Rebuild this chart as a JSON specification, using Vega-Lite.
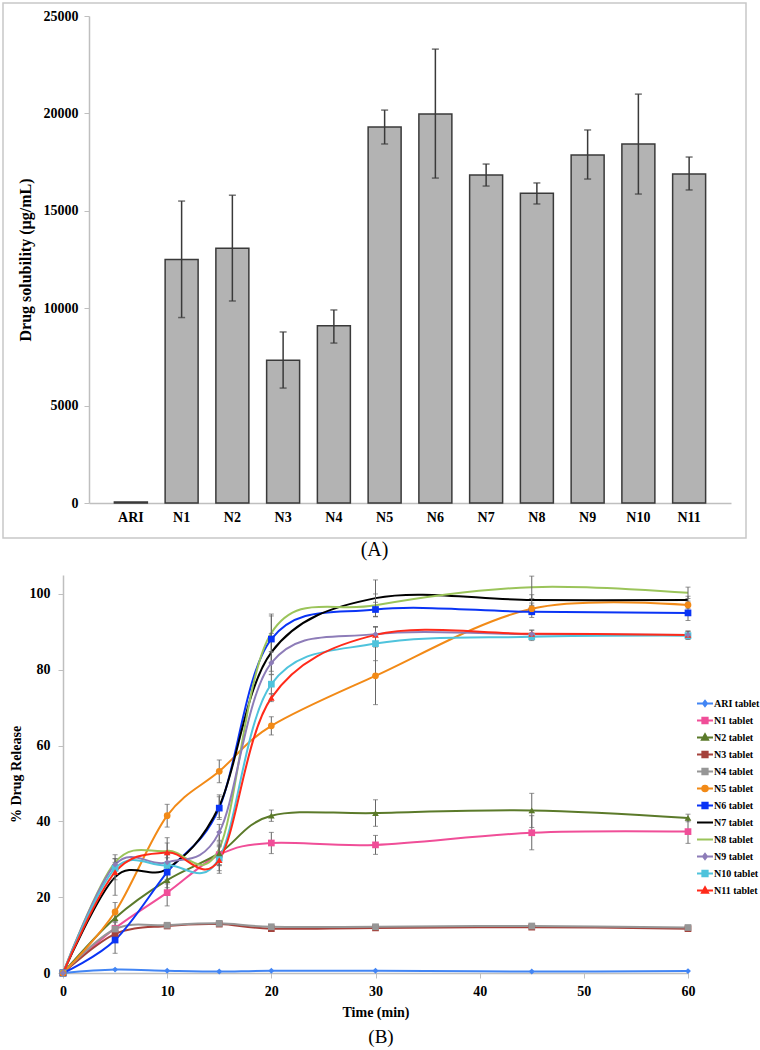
{
  "$schema": "https://vega.github.io/schema/vega-lite/v6.json",
  "padding": {"left": 2, "top": 2, "right": 0, "bottom": 0},
  "background": "white",
  "spacing": 14,
  "config": {
    "font": "Liberation Serif",
    "axis": {"labelFont": "Liberation Serif", "titleFont": "Liberation Serif", "labelColor": "#000", "titleColor": "#000", "grid": false}
  },
  "vconcat": [
    {
      "width": 743,
      "height": 535,
      "view": {"stroke": "#c8c8c8", "strokeWidth": 1.5},
      "title": {"text": "(A)", "orient": "bottom", "font": "Liberation Serif", "fontSize": 20, "fontWeight": "normal", "color": "#000", "offset": 2},
      "data": {"values": [
        {"f": "ARI", "v": 50, "lo": null, "hi": null},
        {"f": "N1", "v": 12500, "lo": 9520, "hi": 15500},
        {"f": "N2", "v": 13080, "lo": 10370, "hi": 15800},
        {"f": "N3", "v": 7330, "lo": 5900, "hi": 8780},
        {"f": "N4", "v": 9100, "lo": 8210, "hi": 9910},
        {"f": "N5", "v": 19300, "lo": 18430, "hi": 20170},
        {"f": "N6", "v": 19970, "lo": 16680, "hi": 23300},
        {"f": "N7", "v": 16840, "lo": 16270, "hi": 17400},
        {"f": "N8", "v": 15900, "lo": 15350, "hi": 16430},
        {"f": "N9", "v": 17860, "lo": 16630, "hi": 19150},
        {"f": "N10", "v": 18430, "lo": 15860, "hi": 20990},
        {"f": "N11", "v": 16890, "lo": 16070, "hi": 17760}
      ]},
      "encoding": {
        "x": {
          "field": "f", "type": "nominal", "sort": null,
          "scale": {"range": [86, 728], "paddingInner": 0.35, "paddingOuter": 0.5},
          "axis": {"title": null, "labelAngle": 0, "labelFontSize": 14, "labelFontWeight": "bold", "domainColor": "#bfbfbf", "domainWidth": 1.5, "ticks": false, "labelPadding": 7, "offset": -35}
        }
      },
      "layer": [
        {
          "mark": {"type": "bar", "fill": "#b3b3b3", "stroke": "#3a3a3a", "strokeWidth": 1.5},
          "encoding": {
            "y": {
              "field": "v", "type": "quantitative",
              "scale": {"domain": [0, 25000], "range": [500, 13], "nice": false},
              "axis": {"title": "Drug solubility (µg/mL)", "titleFontSize": 16, "titleFontWeight": "bold", "titlePadding": 10, "values": [0, 5000, 10000, 15000, 20000, 25000], "format": "d", "labelFontSize": 14, "labelFontWeight": "bold", "domainColor": "#bfbfbf", "domainWidth": 1.5, "tickColor": "#bfbfbf", "tickSize": 5, "labelPadding": 6, "offset": -86}
            }
          }
        },
        {
          "transform": [{"filter": "datum.lo != null"}],
          "mark": {"type": "rule", "color": "#3a3a3a", "strokeWidth": 1.5},
          "encoding": {"y": {"field": "lo", "type": "quantitative"}, "y2": {"field": "hi"}}
        },
        {
          "transform": [{"filter": "datum.lo != null"}],
          "mark": {"type": "tick", "orient": "horizontal", "color": "#3a3a3a", "size": 7, "thickness": 1.5},
          "encoding": {"y": {"field": "lo", "type": "quantitative"}}
        },
        {
          "transform": [{"filter": "datum.lo != null"}],
          "mark": {"type": "tick", "orient": "horizontal", "color": "#3a3a3a", "size": 7, "thickness": 1.5},
          "encoding": {"y": {"field": "hi", "type": "quantitative"}}
        }
      ]
    },
    {
      "width": 756,
      "height": 398,
      "view": {"stroke": null},
      "title": {"text": "(B)", "orient": "bottom", "font": "Liberation Serif", "fontSize": 19, "fontWeight": "normal", "color": "#000", "offset": 9},
      "data": {"values": [
        {"s": "ARI tablet", "t": 0, "v": 0}, {"s": "ARI tablet", "t": 5, "v": 0.9}, {"s": "ARI tablet", "t": 10, "v": 0.6}, {"s": "ARI tablet", "t": 15, "v": 0.4}, {"s": "ARI tablet", "t": 20, "v": 0.6}, {"s": "ARI tablet", "t": 30, "v": 0.6}, {"s": "ARI tablet", "t": 45, "v": 0.4}, {"s": "ARI tablet", "t": 60, "v": 0.5},
        {"s": "N1 tablet", "t": 0, "v": 0}, {"s": "N1 tablet", "t": 5, "v": 11.8, "lo": 10.3, "hi": 13.3}, {"s": "N1 tablet", "t": 10, "v": 21.2, "lo": 17.7, "hi": 24.7}, {"s": "N1 tablet", "t": 15, "v": 31.2, "lo": 28.4, "hi": 34.0}, {"s": "N1 tablet", "t": 20, "v": 34.3, "lo": 31.5, "hi": 37.1}, {"s": "N1 tablet", "t": 30, "v": 33.8, "lo": 31.3, "hi": 36.3}, {"s": "N1 tablet", "t": 45, "v": 37.0, "lo": 32.5, "hi": 41.5}, {"s": "N1 tablet", "t": 60, "v": 37.3, "lo": 34.2, "hi": 40.4},
        {"s": "N2 tablet", "t": 0, "v": 0}, {"s": "N2 tablet", "t": 5, "v": 14.5, "lo": 12.5, "hi": 16.5}, {"s": "N2 tablet", "t": 10, "v": 24.5, "lo": 22.5, "hi": 26.5}, {"s": "N2 tablet", "t": 15, "v": 31.6, "lo": 28.6, "hi": 34.6}, {"s": "N2 tablet", "t": 20, "v": 41.5, "lo": 40.0, "hi": 43.0}, {"s": "N2 tablet", "t": 30, "v": 42.2, "lo": 38.7, "hi": 45.7}, {"s": "N2 tablet", "t": 45, "v": 42.9, "lo": 38.4, "hi": 47.4}, {"s": "N2 tablet", "t": 60, "v": 40.9, "lo": 39.9, "hi": 41.9},
        {"s": "N3 tablet", "t": 0, "v": 0}, {"s": "N3 tablet", "t": 5, "v": 10.3, "lo": 9.6, "hi": 11.0}, {"s": "N3 tablet", "t": 10, "v": 12.4, "lo": 11.9, "hi": 12.9}, {"s": "N3 tablet", "t": 15, "v": 12.9, "lo": 12.4, "hi": 13.4}, {"s": "N3 tablet", "t": 20, "v": 11.7, "lo": 11.3, "hi": 12.1}, {"s": "N3 tablet", "t": 30, "v": 11.9, "lo": 11.5, "hi": 12.3}, {"s": "N3 tablet", "t": 45, "v": 12.1, "lo": 11.7, "hi": 12.5}, {"s": "N3 tablet", "t": 60, "v": 11.7, "lo": 11.3, "hi": 12.1},
        {"s": "N4 tablet", "t": 0, "v": 0}, {"s": "N4 tablet", "t": 5, "v": 11.6, "lo": 11.0, "hi": 12.2}, {"s": "N4 tablet", "t": 10, "v": 12.6, "lo": 12.1, "hi": 13.1}, {"s": "N4 tablet", "t": 15, "v": 13.1, "lo": 12.6, "hi": 13.6}, {"s": "N4 tablet", "t": 20, "v": 12.2, "lo": 11.8, "hi": 12.6}, {"s": "N4 tablet", "t": 30, "v": 12.2, "lo": 11.8, "hi": 12.6}, {"s": "N4 tablet", "t": 45, "v": 12.4, "lo": 12.0, "hi": 12.8}, {"s": "N4 tablet", "t": 60, "v": 12.0, "lo": 11.6, "hi": 12.4},
        {"s": "N5 tablet", "t": 0, "v": 0}, {"s": "N5 tablet", "t": 5, "v": 16.1, "lo": 13.6, "hi": 18.6}, {"s": "N5 tablet", "t": 10, "v": 41.5, "lo": 38.5, "hi": 44.5}, {"s": "N5 tablet", "t": 15, "v": 53.2, "lo": 50.2, "hi": 56.2}, {"s": "N5 tablet", "t": 20, "v": 65.2, "lo": 62.8, "hi": 67.6}, {"s": "N5 tablet", "t": 30, "v": 78.4, "lo": 70.8, "hi": 86.0}, {"s": "N5 tablet", "t": 45, "v": 96.1, "lo": 94.6, "hi": 97.6}, {"s": "N5 tablet", "t": 60, "v": 97.1, "lo": 96.1, "hi": 98.1},
        {"s": "N6 tablet", "t": 0, "v": 0}, {"s": "N6 tablet", "t": 5, "v": 8.7, "lo": 5.2, "hi": 12.2}, {"s": "N6 tablet", "t": 10, "v": 26.6, "lo": 21.6, "hi": 31.6}, {"s": "N6 tablet", "t": 15, "v": 43.5, "lo": 40.5, "hi": 46.5}, {"s": "N6 tablet", "t": 20, "v": 88.1, "lo": 82.0, "hi": 94.2}, {"s": "N6 tablet", "t": 30, "v": 95.9, "lo": 94.0, "hi": 97.8}, {"s": "N6 tablet", "t": 45, "v": 95.3, "lo": 93.8, "hi": 96.8}, {"s": "N6 tablet", "t": 60, "v": 95.0, "lo": 93.0, "hi": 97.0},
        {"s": "N7 tablet", "t": 0, "v": 0}, {"s": "N7 tablet", "t": 5, "v": 25.3, "lo": 20.5, "hi": 30.1}, {"s": "N7 tablet", "t": 10, "v": 27.5, "lo": 23.5, "hi": 31.5}, {"s": "N7 tablet", "t": 15, "v": 44.0, "lo": 41.0, "hi": 47.0}, {"s": "N7 tablet", "t": 20, "v": 84.6, "lo": 79.6, "hi": 89.6}, {"s": "N7 tablet", "t": 30, "v": 98.9, "lo": 94.1, "hi": 103.7}, {"s": "N7 tablet", "t": 45, "v": 98.4, "lo": 97.0, "hi": 99.8}, {"s": "N7 tablet", "t": 60, "v": 98.4, "lo": 97.4, "hi": 99.4},
        {"s": "N8 tablet", "t": 0, "v": 0}, {"s": "N8 tablet", "t": 5, "v": 29.2, "lo": 27.2, "hi": 31.2}, {"s": "N8 tablet", "t": 10, "v": 32.2, "lo": 28.7, "hi": 35.7}, {"s": "N8 tablet", "t": 15, "v": 32.8, "lo": 28.3, "hi": 37.3}, {"s": "N8 tablet", "t": 20, "v": 89.7, "lo": 84.7, "hi": 94.7}, {"s": "N8 tablet", "t": 30, "v": 97.0, "lo": 94.0, "hi": 100.0}, {"s": "N8 tablet", "t": 45, "v": 101.8, "lo": 98.8, "hi": 104.7}, {"s": "N8 tablet", "t": 60, "v": 100.3, "lo": 98.8, "hi": 101.8},
        {"s": "N9 tablet", "t": 0, "v": 0}, {"s": "N9 tablet", "t": 5, "v": 28.6, "lo": 27.0, "hi": 30.2}, {"s": "N9 tablet", "t": 10, "v": 29.2, "lo": 27.2, "hi": 31.2}, {"s": "N9 tablet", "t": 15, "v": 37.1, "lo": 35.0, "hi": 39.2}, {"s": "N9 tablet", "t": 20, "v": 81.8, "lo": 78.8, "hi": 84.8}, {"s": "N9 tablet", "t": 30, "v": 89.4, "lo": 87.4, "hi": 91.4}, {"s": "N9 tablet", "t": 45, "v": 89.4, "lo": 88.4, "hi": 90.4}, {"s": "N9 tablet", "t": 60, "v": 89.2, "lo": 88.2, "hi": 90.2},
        {"s": "N10 tablet", "t": 0, "v": 0}, {"s": "N10 tablet", "t": 5, "v": 27.6, "lo": 26.0, "hi": 29.2}, {"s": "N10 tablet", "t": 10, "v": 28.4, "lo": 26.4, "hi": 30.4}, {"s": "N10 tablet", "t": 15, "v": 30.3, "lo": 27.0, "hi": 33.6}, {"s": "N10 tablet", "t": 20, "v": 76.2, "lo": 73.7, "hi": 78.7}, {"s": "N10 tablet", "t": 30, "v": 86.9, "lo": 82.4, "hi": 91.4}, {"s": "N10 tablet", "t": 45, "v": 88.7, "lo": 87.7, "hi": 89.7}, {"s": "N10 tablet", "t": 60, "v": 89.0, "lo": 88.0, "hi": 90.0},
        {"s": "N11 tablet", "t": 0, "v": 0}, {"s": "N11 tablet", "t": 5, "v": 26.6, "lo": 24.6, "hi": 28.6}, {"s": "N11 tablet", "t": 10, "v": 31.8, "lo": 29.3, "hi": 34.3}, {"s": "N11 tablet", "t": 15, "v": 29.8, "lo": 26.3, "hi": 33.3}, {"s": "N11 tablet", "t": 20, "v": 72.6, "lo": 71.6, "hi": 73.6}, {"s": "N11 tablet", "t": 30, "v": 89.2, "lo": 87.2, "hi": 91.2}, {"s": "N11 tablet", "t": 45, "v": 89.5, "lo": 88.5, "hi": 90.5}, {"s": "N11 tablet", "t": 60, "v": 89.2, "lo": 88.2, "hi": 90.2}
      ]},
      "encoding": {
        "x": {
          "field": "t", "type": "quantitative",
          "scale": {"domain": [0, 60], "range": [60, 685], "nice": false, "zero": false},
          "axis": {"title": "Time (min)", "titleFontSize": 14, "titleFontWeight": "bold", "titlePadding": 7, "values": [0, 10, 20, 30, 40, 50, 60], "labelFontSize": 14, "labelFontWeight": "bold", "domainColor": "#bfbfbf", "domainWidth": 1.5, "tickColor": "#bfbfbf", "tickSize": 5, "labelPadding": 6, "labelFlush": false}
        },
        "y": {
          "field": "v", "type": "quantitative",
          "scale": {"domain": [0, 105], "nice": false},
          "axis": {"title": "% Drug  Release", "titleFontSize": 14, "titleFontWeight": "bold", "titlePadding": 6, "values": [0, 20, 40, 60, 80, 100], "labelFontSize": 14, "labelFontWeight": "bold", "domainColor": "#bfbfbf", "domainWidth": 1.5, "tickColor": "#bfbfbf", "tickSize": 5, "labelPadding": 8, "offset": -60}
        }
      },
      "layer": [
        {
          "mark": {"type": "line", "interpolate": "cardinal", "strokeWidth": 2},
          "encoding": {
            "color": {
              "field": "s", "type": "nominal",
              "scale": {
                "domain": ["ARI tablet", "N1 tablet", "N2 tablet", "N3 tablet", "N4 tablet", "N5 tablet", "N6 tablet", "N7 tablet", "N8 tablet", "N9 tablet", "N10 tablet", "N11 tablet"],
                "range": ["#4285f4", "#f04e98", "#5b7a2a", "#a5423c", "#969696", "#f28a17", "#0a34f5", "#000000", "#9bc45a", "#8d7cb8", "#4fc3dc", "#ff2a1a"]
              },
              "legend": {
                "title": null, "orient": "none", "legendX": 693, "legendY": 692,
                "padding": 0,
                "labelFont": "Liberation Serif", "labelFontSize": 10, "labelFontWeight": "bold", "labelColor": "#000", "labelLimit": 60,
                "symbolSize": 256, "symbolStrokeWidth": 2, "rowPadding": 0, "clipHeight": 17, "labelOffset": 0,
                "encode": {
                  "symbols": {
                    "update": {
                      "shape": {"signal": "['M-1,0H1M0,-0.33L0.25,0L0,0.33L-0.25,0Z','M-1,0H1M-0.33,-0.33H0.33V0.33H-0.33Z','M-1,0H1M0,-0.4L0.38,0.28H-0.38Z','M-1,0H1M-0.33,-0.33H0.33V0.33H-0.33Z','M-1,0H1M-0.33,-0.33H0.33V0.33H-0.33Z','M-1,0H1M0.35,0A0.35,0.35,0,1,1,-0.35,0A0.35,0.35,0,1,1,0.35,0Z','M-1,0H1M-0.33,-0.33H0.33V0.33H-0.33Z','M-1,0H1','M-1,0H1','M-1,0H1M0,-0.33L0.25,0L0,0.33L-0.25,0Z','M-1,0H1M-0.33,-0.33H0.33V0.33H-0.33Z','M-1,0H1M0,-0.4L0.38,0.28H-0.38Z'][indexof(['ARI tablet','N1 tablet','N2 tablet','N3 tablet','N4 tablet','N5 tablet','N6 tablet','N7 tablet','N8 tablet','N9 tablet','N10 tablet','N11 tablet'], datum.value)]"},
                      "fill": {"signal": "['#4285f4','#f04e98','#5b7a2a','#a5423c','#969696','#f28a17','#0a34f5','#000000','#9bc45a','#8d7cb8','#4fc3dc','#ff2a1a'][indexof(['ARI tablet','N1 tablet','N2 tablet','N3 tablet','N4 tablet','N5 tablet','N6 tablet','N7 tablet','N8 tablet','N9 tablet','N10 tablet','N11 tablet'], datum.value)]"},
                      "strokeWidth": {"value": 2},
                      "opacity": {"value": 1},
                      "fillOpacity": {"value": 1}
                    }
                  }
                }
              }
            }
          }
        },
        {
          "transform": [{"filter": "isValid(datum.lo)"}],
          "mark": {"type": "rule", "color": "#666666", "strokeWidth": 1},
          "encoding": {"y": {"field": "lo", "type": "quantitative"}, "y2": {"field": "hi"}}
        },
        {
          "transform": [{"filter": "isValid(datum.lo)"}],
          "mark": {"type": "tick", "orient": "horizontal", "color": "#666666", "size": 5, "thickness": 1},
          "encoding": {"y": {"field": "lo", "type": "quantitative"}}
        },
        {
          "transform": [{"filter": "isValid(datum.lo)"}],
          "mark": {"type": "tick", "orient": "horizontal", "color": "#666666", "size": 5, "thickness": 1},
          "encoding": {"y": {"field": "hi", "type": "quantitative"}}
        },
        {
          "transform": [{"filter": "indexof(['N1 tablet','N3 tablet','N4 tablet','N6 tablet','N10 tablet'], datum.s) >= 0"}],
          "mark": {"type": "point", "shape": "square", "filled": true, "size": 45, "opacity": 1},
          "encoding": {"color": {"field": "s", "type": "nominal"}}
        },
        {
          "transform": [{"filter": "indexof(['N2 tablet','N11 tablet'], datum.s) >= 0"}],
          "mark": {"type": "point", "shape": "triangle-up", "filled": true, "size": 45, "opacity": 1},
          "encoding": {"color": {"field": "s", "type": "nominal"}}
        },
        {
          "transform": [{"filter": "datum.s == 'N5 tablet'"}],
          "mark": {"type": "point", "shape": "circle", "filled": true, "size": 45, "opacity": 1},
          "encoding": {"color": {"field": "s", "type": "nominal"}}
        },
        {
          "transform": [{"filter": "indexof(['ARI tablet','N9 tablet'], datum.s) >= 0"}],
          "mark": {"type": "point", "shape": "diamond", "filled": true, "size": 35, "opacity": 1},
          "encoding": {"color": {"field": "s", "type": "nominal"}}
        }
      ]
    }
  ]
}
